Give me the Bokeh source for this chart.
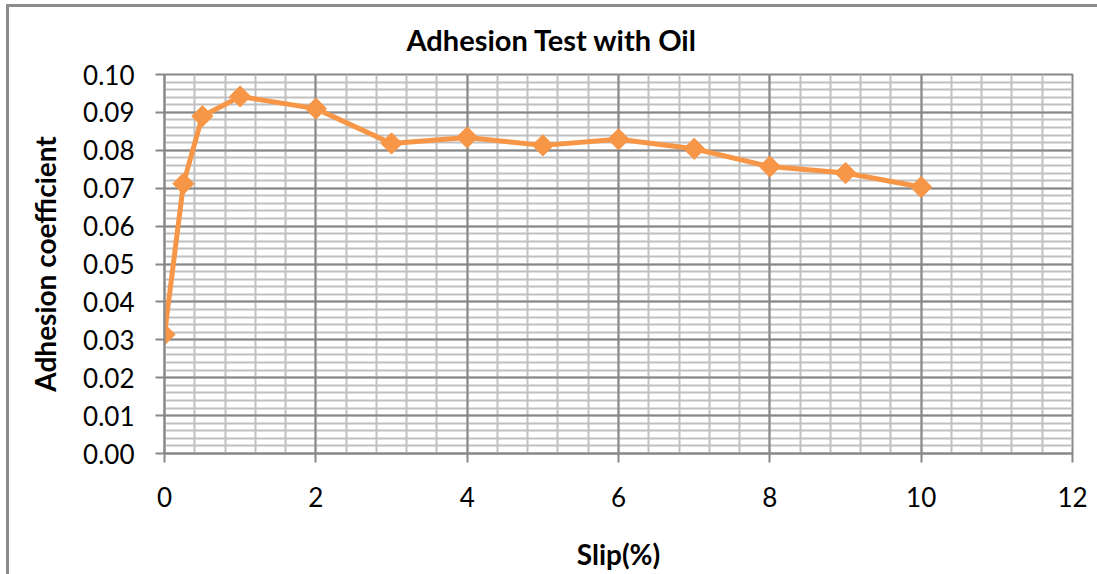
from bokeh.plotting import figure
from bokeh.models import Range1d, SingleIntervalTicker, PrintfTickFormatter, Grid, InlineStyleSheet
from bokeh.embed import file_html
from bokeh.resources import INLINE

# ---- data ----
slip = [0, 0.25, 0.5, 1, 2, 3, 4, 5, 6, 7, 8, 9, 10]
adhesion = [0.0314, 0.0712, 0.0890, 0.0942, 0.0910, 0.0818, 0.0834,
            0.0813, 0.0829, 0.0804, 0.0757, 0.0740, 0.0703]
x_limits = [0, 12]
y_limits = [0, 0.10]
title_text = "Adhesion Test with Oil"
x_label = "Slip(%)"
y_label = "Adhesion coefficient"

FONT = "Lato"
ORANGE = "#F79646"
MAJOR = "#878787"
MINOR = "#c0c0c0"
BORDER = "#8c8c8c"

p = figure(width=1097, height=574, output_backend="svg", toolbar_location=None,
           x_range=Range1d(*x_limits), y_range=Range1d(*y_limits),
           min_border_left=164, min_border_right=25,
           min_border_top=74, min_border_bottom=121)
# outer chart border: only its left and top edges are visible in the reference
p.stylesheets = [InlineStyleSheet(css=(
    ":host { background-color: white; "
    "box-shadow: inset 6px 4px 0px 0px white, inset 9px 7px 0px 0px " + BORDER + "; }"))]
p.background_fill_color = "white"
p.border_fill_alpha = 0
p.outline_line_color = MAJOR
p.outline_line_width = 2

p.title.text = title_text
p.title.align = "left"
p.title.offset = 242
p.title.standoff = 35
p.title.text_font = FONT
p.title.text_font_style = "bold"
p.title.text_font_size = "29px"
p.title.text_color = "black"

xt = SingleIntervalTicker(interval=2, num_minor_ticks=5)
yt = SingleIntervalTicker(interval=0.01, num_minor_ticks=5)
p.xaxis.ticker = xt
p.yaxis.ticker = yt
p.yaxis.formatter = PrintfTickFormatter(format="%.2f")

p.grid.visible = False
p.add_layout(Grid(dimension=0, ticker=xt, grid_line_color=None,
                  minor_grid_line_color=MINOR, minor_grid_line_width=2))
p.add_layout(Grid(dimension=1, ticker=yt, grid_line_color=None,
                  minor_grid_line_color=MINOR, minor_grid_line_width=2))
p.add_layout(Grid(dimension=0, ticker=xt, grid_line_color=MAJOR, grid_line_width=2))
p.add_layout(Grid(dimension=1, ticker=yt, grid_line_color=MAJOR, grid_line_width=2))

for ax in (p.xaxis, p.yaxis):
    ax.axis_line_color = MAJOR
    ax.axis_line_width = 2
    ax.major_tick_line_color = MAJOR
    ax.major_tick_line_width = 2
    ax.major_tick_in = 0
    ax.major_tick_out = 9
    ax.minor_tick_in = 0
    ax.minor_tick_out = 0
    ax.major_label_text_font = FONT
    ax.major_label_text_font_size = "26px"
    ax.major_label_text_color = "black"
    ax.axis_label_text_font = FONT
    ax.axis_label_text_font_size = "28px"
    ax.axis_label_text_font_style = "bold"
    ax.axis_label_text_color = "black"

p.xaxis.axis_label = x_label
p.yaxis.axis_label = y_label
p.xaxis.major_label_standoff = 24
p.yaxis.major_label_standoff = 21
p.xaxis.axis_label_standoff = 27
p.yaxis.axis_label_standoff = 18

p.line(slip, adhesion, line_color=ORANGE, line_width=5, line_join="round")
p.scatter(slip, adhesion, marker="square", angle=0.785398, size=15,
          fill_color=ORANGE, line_color=ORANGE)

open("out.html", "w").write(file_html(p, INLINE))
